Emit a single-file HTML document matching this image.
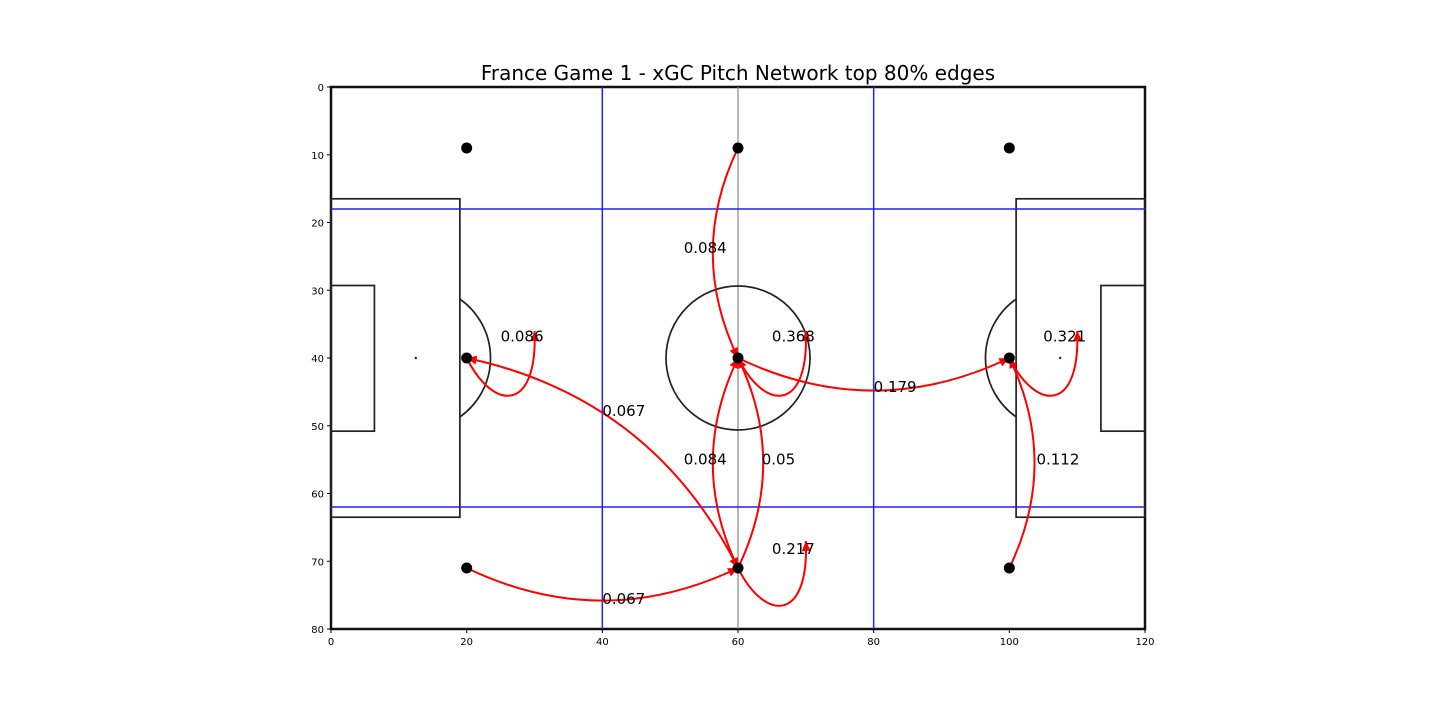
<!DOCTYPE html>
<html><head><meta charset="utf-8"><style>
body{margin:0;background:#fff;width:1440px;height:720px;overflow:hidden;font-family:"Liberation Sans","DejaVu Sans",sans-serif}
</style></head><body>
<svg id="chart" width="1440" height="720" xmlns="http://www.w3.org/2000/svg">
<text x="738" y="80" font-size="20" text-anchor="middle" fill="#000" font-family="DejaVu Sans, sans-serif">France Game 1 - xGC Pitch Network top 80% edges</text>
<g id="pitch"></g>
<g id="grid"></g>
<g id="edges"></g>
<g id="nodes"></g>
<g id="labels"></g>
<g id="axes"></g>
</svg>
<script>
const xTicks=[0,20,40,60,80,100,120];
const yTicks=[0,10,20,30,40,50,60,70,80];
const nodeX=[20,60,100,20,60,100,20,60,100];
const nodeY=[9,9,9,40,40,40,71,71,71];
const edgeSrc=[1,4,4,5,3,7,4,7,6,7,8];
const edgeDst=[4,4,5,5,3,3,7,4,7,7,5];
const edgeW=["0.084","0.368","0.179","0.321","0.086","0.067","0.084","0.05","0.067","0.217","0.112"];
const labelX=[52,65,80,105,25,40,52,63.5,40,65,104];
const labelY=[23.8,36.8,44.3,36.8,36.8,47.8,55,55,75.6,68.2,55];
const vLines=[40,80];
const hLines=[18,62];

const X0=331,X1=1145,Y0=87,Y1=629;
const sx=v=>X0+(X1-X0)*v/120;
const sy=v=>Y0+(Y1-Y0)*v/80;
const NS="http://www.w3.org/2000/svg";
function mk(parent,tag,attrs){const e=document.createElementNS(NS,tag);for(const k in attrs)e.setAttribute(k,attrs[k]);document.getElementById(parent).appendChild(e);return e;}

let p;
p=mk('pitch','rect',{x:sx(0),y:sy(0),width:sx(120)-sx(0),height:sy(80)-sy(0),fill:'#fff',stroke:'#111','stroke-width':2.5});

p=mk('pitch','line',{x1:sx(60),y1:sy(0),x2:sx(60),y2:sy(80),stroke:'#888','stroke-width':1.2});

p=mk('pitch','circle',{cx:sx(60),cy:sy(40),r:72,fill:'none',stroke:'#222','stroke-width':1.7});

[[0,19,16.5,63.5],[0,6.4,29.3,50.8],[101,120,16.5,63.5],[113.5,120,29.3,50.8]].forEach(b=>{
 const r=mk('pitch','rect',{x:sx(b[0]),y:sy(b[2]),width:sx(b[1])-sx(b[0]),height:sy(b[3])-sy(b[2]),fill:'none',stroke:'#222','stroke-width':1.7});
 
});
p=mk('pitch','path',{d:`M${sx(19)} ${sy(31.3)} A72 72 0 0 1 ${sx(19)} ${sy(48.7)}`,fill:'none',stroke:'#222','stroke-width':1.7});

p=mk('pitch','path',{d:`M${sx(101)} ${sy(31.3)} A72 72 0 0 0 ${sx(101)} ${sy(48.7)}`,fill:'none',stroke:'#222','stroke-width':1.7});

[[12.5,40],[107.5,40]].forEach(s=>{const c=mk('pitch','circle',{cx:sx(s[0]),cy:sy(s[1]),r:1.2,fill:'#222'});
 });

vLines.forEach(v=>{const l=mk('grid','line',{x1:sx(v),y1:sy(0),x2:sx(v),y2:sy(80),stroke:'#2222ee','stroke-width':1.5});
 });
hLines.forEach(v=>{const l=mk('grid','line',{x1:sx(0),y1:sy(v),x2:sx(120),y2:sy(v),stroke:'#2222ee','stroke-width':1.5});
 });

function arrow(ex,ey,cx,cy){
 const dx=ex-cx,dy=ey-cy,L=Math.hypot(dx,dy),ux=dx/L,uy=dy/L,h=10,w=4.5;
 const bx=ex-ux*h,by=ey-uy*h;
 const a=mk('edges','polygon',{points:`${ex},${ey} ${bx-uy*w},${by+ux*w} ${bx+uy*w},${by-ux*w}`,fill:'red'});
 
}
const rad=0.24;
for(let i=0;i<edgeSrc.length;i++){
 const s=edgeSrc[i],d=edgeDst[i];
 const x1=sx(nodeX[s]),y1=sy(nodeY[s]);
 let path;
 if(s===d){
  const x2=sx(nodeX[s]+10),y2=sy(nodeY[s]-4);
  const c1x=sx(nodeX[s]+4),c1y=sy(nodeY[s]+8),c2x=sx(nodeX[s]+10.5),c2y=sy(nodeY[s]+8);
  path=mk('edges','path',{d:`M${x1} ${y1} C${c1x} ${c1y} ${c2x} ${c2y} ${x2} ${y2}`,fill:'none',stroke:'red','stroke-width':2});
  arrow(x2,y2,c2x,c2y);
 } else {
  let x2=sx(nodeX[d]),y2=sy(nodeY[d]);
  const dx=x2-x1,dy=y2-y1;
  const cx=(x1+x2)/2-rad*dy,cy=(y1+y2)/2+rad*dx;
  path=mk('edges','path',{d:`M${x1} ${y1} Q${cx} ${cy} ${x2} ${y2}`,fill:'none',stroke:'red','stroke-width':2});
  arrow(x2,y2,cx,cy);
  if(i===5||i===6) arrow(x1,y1,cx,cy);
 }
 
 
 const t=mk('labels','text',{x:sx(labelX[i]),y:sy(labelY[i])+5,'font-size':15,fill:'#000','font-family':'DejaVu Sans, sans-serif'});
 t.textContent=edgeW[i];
 
 
}
for(let i=0;i<nodeX.length;i++){
 const c=mk('nodes','circle',{cx:sx(nodeX[i]),cy:sy(nodeY[i]),r:5.5,fill:'#000'});
 
 
}
xTicks.forEach(v=>{
 const l=mk('axes','line',{x1:sx(v),y1:Y1,x2:sx(v),y2:Y1+4,stroke:'#000'});
 
 const t=mk('axes','text',{x:sx(v),y:Y1+16,'font-size':10,'text-anchor':'middle',fill:'#000','font-family':'DejaVu Sans, sans-serif'});
 t.textContent=v;
});
yTicks.forEach(v=>{
 const l=mk('axes','line',{x1:X0-4,y1:sy(v),x2:X0,y2:sy(v),stroke:'#000'});
 
 const t=mk('axes','text',{x:X0-7,y:sy(v)+4,'font-size':10,'text-anchor':'end',fill:'#000','font-family':'DejaVu Sans, sans-serif'});
 t.textContent=v;
});
</script>
</body></html>
